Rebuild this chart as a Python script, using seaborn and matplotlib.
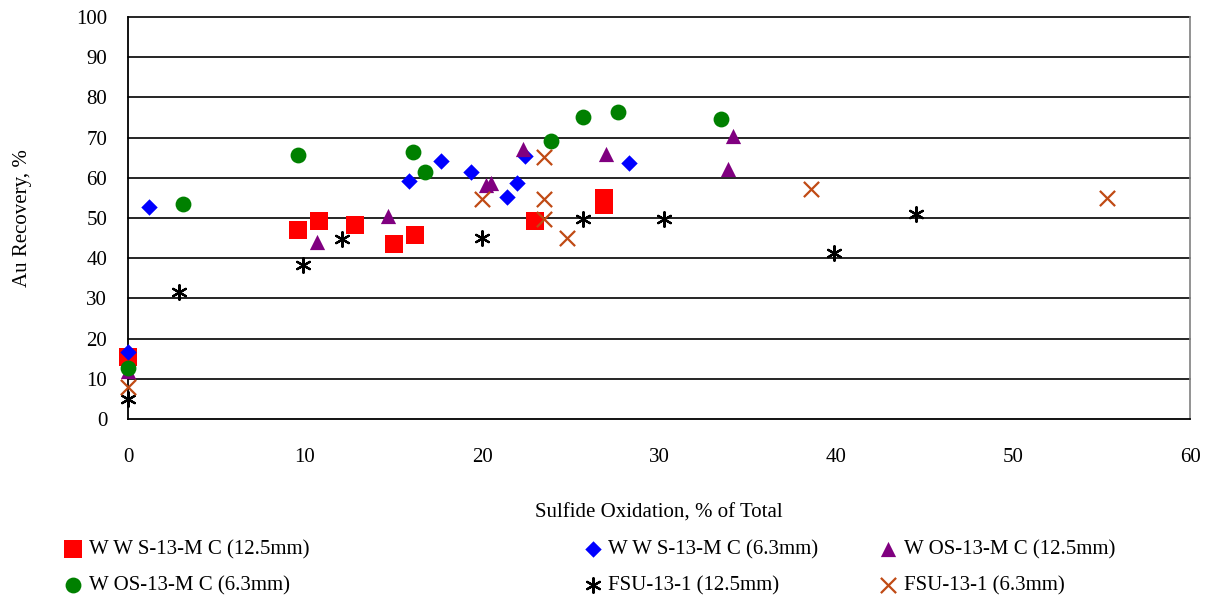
import numpy as np
import pandas as pd
import matplotlib
matplotlib.use("Agg")
import matplotlib.pyplot as plt
import seaborn as sns

# ---- data ----
wws125_x = [0.0, 9.6, 10.8, 12.8, 15.0, 16.2, 23.0, 26.9, 26.9]
wws125_y = [15.4, 47.0, 49.3, 48.3, 43.5, 45.8, 49.3, 55.0, 53.3]

wws63_x = [0.0, 1.2, 15.9, 17.7, 19.4, 21.4, 22.0, 22.4, 28.3]
wws63_y = [16.6, 52.8, 59.2, 64.2, 61.5, 55.1, 58.8, 65.5, 63.8]

wos125_x = [0.0, 10.7, 14.7, 20.2, 20.5, 22.3, 27.0, 33.9, 34.2]
wos125_y = [12.0, 44.1, 50.5, 58.2, 58.6, 67.2, 65.9, 62.2, 70.4]

wos63_x = [0.0, 3.1, 9.6, 16.1, 16.8, 23.9, 25.7, 27.7, 33.5]
wos63_y = [12.7, 53.4, 65.7, 66.5, 61.5, 69.2, 75.0, 76.4, 74.6]

fsu125_x = [0.0, 2.9, 9.9, 12.1, 20.0, 25.7, 30.3, 39.9, 44.5]
fsu125_y = [4.9, 31.5, 38.3, 44.7, 45.1, 49.7, 49.7, 41.3, 50.9]

fsu63_x = [0.0, 20.0, 23.5, 23.5, 23.5, 24.8, 38.6, 55.3]
fsu63_y = [7.9, 54.6, 65.1, 54.6, 49.7, 45.1, 57.2, 54.9]

series_labels = [
    "W W S-13-M C (12.5mm)",
    "W W S-13-M C (6.3mm)",
    "W OS-13-M C (12.5mm)",
    "W OS-13-M C (6.3mm)",
    "FSU-13-1 (12.5mm)",
    "FSU-13-1 (6.3mm)",
]
xs = [wws125_x, wws63_x, wos125_x, wos63_x, fsu125_x, fsu63_x]
ys = [wws125_y, wws63_y, wos125_y, wos63_y, fsu125_y, fsu63_y]

x_ticks = [0, 10, 20, 30, 40, 50, 60]
y_ticks = list(range(0, 101, 10))

# ---- styles ----
colors = ["#FF0000", "#0000FF", "#800080", "#008000", "#000000", "#C04A14"]
markers = ["s", "D", "^", "o", (6, 2, 0), "x"]
sizes = [150, 70, 120, 130, 110, 120]

sns.set_theme(style="white")
plt.rcParams["font.family"] = ["Liberation Serif", "DejaVu Serif"]
plt.rcParams["text.color"] = "black"
plt.rcParams["axes.labelcolor"] = "black"

fig = plt.figure(figsize=(12.11, 6.0), dpi=100)
ax = fig.add_axes([0.1057, 0.3017, 0.8770, 0.6700])

for lab, x, y, c, m, s in zip(series_labels, xs, ys, colors, markers, sizes):
    df = pd.DataFrame({"x": x, "y": y})
    filled = m in ("s", "D", "^", "o")
    sns.scatterplot(data=df, x="x", y="y", ax=ax, marker=m, color=c, s=s,
                    linewidth=0 if filled else 1.6, label=lab, zorder=3,
                    clip_on=False)

ax.set_xlim(0, 60)
ax.set_ylim(0, 100)
ax.set_xticks(x_ticks)
ax.set_yticks(y_ticks)
ax.set_xticklabels([str(t) for t in x_ticks], fontsize=15)
ax.set_yticklabels([str(t) for t in y_ticks], fontsize=15)
ax.tick_params(axis="both", direction="in", length=5, width=1, color="black",
               labelcolor="black")
ax.tick_params(axis="y", pad=15)
ax.tick_params(axis="x", pad=21)

for yt in y_ticks[1:]:
    ax.axhline(yt, color="black", linewidth=1.2, zorder=1, clip_on=False)

for side in ["left", "bottom"]:
    ax.spines[side].set_color("black")
    ax.spines[side].set_linewidth(1.3)
ax.spines["top"].set_visible(False)
ax.spines["right"].set_color("#808080")
ax.spines["right"].set_linewidth(1.2)

ax.set_xlabel("Sulfide Oxidation, % of Total", fontsize=15, labelpad=26)
ax.set_ylabel("Au Recovery, %", fontsize=15, labelpad=32)

h, l = ax.get_legend_handles_labels()
ax.get_legend().remove()

col_x = [0.050, 0.479, 0.723]
for i, cx in enumerate(col_x):
    idx = [i, i + 3]
    fig.legend([h[k] for k in idx], [l[k] for k in idx], loc="upper left",
               bbox_to_anchor=(cx, 0.100), frameon=False, fontsize=15,
               labelspacing=0.8, handletextpad=0.15, handlelength=1.2,
               borderaxespad=0, borderpad=0)

fig.savefig("out.png", dpi=100)
